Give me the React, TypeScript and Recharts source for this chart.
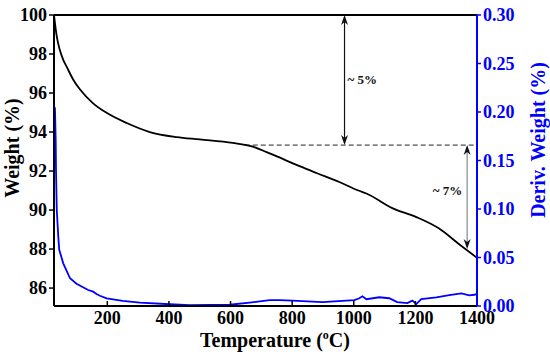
import { LineChart, Line, XAxis, YAxis, ReferenceLine } from 'recharts';

const tempTicks = [200, 400, 600, 800, 1000, 1200, 1400];
const weightTicks = [86, 88, 90, 92, 94, 96, 98, 100];
const derivTicks = [0, 0.05, 0.1, 0.15, 0.2, 0.25, 0.3];

// TGA weight curve (black, left axis)
const weightTemp = [27, 33, 36, 46, 57, 68, 90, 111, 154, 199, 263, 338, 425, 500, 607, 672, 717, 743, 824, 879, 953, 1015, 1041, 1125, 1203, 1277, 1342, 1400];
const weightPct = [100, 99.23, 98.9, 98.2, 97.7, 97.35, 96.67, 96.19, 95.47, 94.97, 94.46, 94.0, 93.74, 93.62, 93.44, 93.25, 92.97, 92.8, 92.25, 91.9, 91.44, 91.0, 90.85, 90.1, 89.64, 89.05, 88.25, 87.55];

// derivative curve (blue, right axis)
const derivTemp = [30, 32.5, 33.5, 36, 41, 44, 57, 79, 100, 138, 154, 165, 176, 198, 250, 306, 403, 467, 597, 662, 727, 759, 801, 898, 1002, 1018, 1028, 1041, 1083, 1115, 1141, 1174, 1190, 1203, 1219, 1268, 1310, 1349, 1375, 1391, 1400];
const derivPct = [0.205, 0.171, 0.14, 0.099, 0.071, 0.058, 0.044, 0.0286, 0.023, 0.0165, 0.0148, 0.0124, 0.0106, 0.0079, 0.0052, 0.0035, 0.0018, 0.001, 0.0013, 0.0035, 0.006, 0.006, 0.0055, 0.004, 0.006, 0.008, 0.01, 0.007, 0.009, 0.008, 0.004, 0.003, 0.0055, 0.002, 0.007, 0.009, 0.0113, 0.013, 0.011, 0.0116, 0.0124];

const plateau = 93.33;
const arrow1 = { t: 970, top: 100, bottom: plateau, text: '~ 5%' };
const arrow2 = { t: 1368, top: plateau, bottom: 88.0, text: '~ 7%' };

const weightData = weightTemp.map((t, i) => ({ t, w: weightPct[i] }));
const derivData = derivTemp.map((t, i) => ({ t, d: derivPct[i] }));

const FONT = '"Liberation Serif", "Times New Roman", serif';
const BLUE = '#0000ff';

const makeArrow = (lineColor: string, text: string, side: 'right' | 'left') => (props: any) => {
  const { x1, y1, x2, y2 } = props;
  const x = x1;
  const top = Math.min(y1, y2);
  const bot = Math.max(y1, y2);
  const mid = (top + bot) / 2;
  return (
    <g>
      <line x1={x} y1={top + 2} x2={x2} y2={bot - 2} stroke={lineColor} strokeWidth={1.2} />
      <path d={`M${x},${top} L${x - 3.5},${top + 10} L${x},${top + 7} L${x + 3.5},${top + 10} Z`} fill="#111" />
      <path d={`M${x},${bot} L${x - 3.5},${bot - 10} L${x},${bot - 7} L${x + 3.5},${bot - 10} Z`} fill="#111" />
      <text
        x={side === 'right' ? x + 3 : x - 5}
        y={side === 'right' ? mid + 4 : mid - 2}
        textAnchor={side === 'right' ? 'start' : 'end'}
        fontFamily={FONT}
        fontSize={13}
        fontWeight="bold"
        fill="#111"
      >
        {text}
      </text>
    </g>
  );
};

const XTitle = () => (
  <text x={275} y={347} textAnchor="middle" fontFamily={FONT} fontSize={20} fontWeight="bold" fill="#000">
    <tspan>Temperature (</tspan>
    <tspan dy={-8} fontSize={12}>o</tspan>
    <tspan dy={8}>C)</tspan>
  </text>
);

const LeftTitle = () => (
  <text transform="translate(19,148) rotate(-90)" textAnchor="middle" fontFamily={FONT} fontSize={20} fontWeight="bold" fill="#000">
    Weight (%)
  </text>
);

const RightTitle = () => (
  <text transform="translate(545,140) rotate(-90)" textAnchor="middle" fontFamily={FONT} fontSize={20} fontWeight="bold" fill={BLUE}>
    Deriv. Weight (%)
  </text>
);

export default function App() {
  return (
    <div style={{ position: 'absolute', left: 0, top: 0, width: 550, height: 354, background: '#fff' }}>
      <LineChart width={550} height={354} margin={{ top: 15, right: 0, left: 0, bottom: 0 }}>
        <XAxis
          dataKey="t"
          type="number"
          domain={[27, 1400]}
          ticks={tempTicks}
          allowDataOverflow
          interval={0}
          height={48}
          tickSize={-5}
          tickMargin={10}
          axisLine={{ stroke: '#000', strokeWidth: 2 }}
          tickLine={{ stroke: '#000', strokeWidth: 1.5 }}
          tick={{ fill: '#000', fontSize: 18, fontWeight: 'bold', fontFamily: FONT }}
          label={{ content: () => <XTitle /> }}
        />
        <YAxis
          yAxisId="w"
          orientation="left"
          width={54}
          domain={[85.08, 100]}
          ticks={weightTicks}
          allowDataOverflow
          interval={0}
          tickSize={5}
          tickMargin={2}
          axisLine={{ stroke: '#000', strokeWidth: 2 }}
          tickLine={{ stroke: '#000', strokeWidth: 1.5 }}
          tick={{ fill: '#000', fontSize: 18, fontWeight: 'bold', fontFamily: FONT }}
          label={{ content: () => <LeftTitle /> }}
        />
        <YAxis
          yAxisId="d"
          orientation="right"
          width={73}
          domain={[0, 0.3]}
          ticks={derivTicks}
          allowDataOverflow
          interval={0}
          tickSize={4}
          tickMargin={2}
          tickFormatter={(v: number) => v.toFixed(2)}
          axisLine={{ stroke: BLUE, strokeWidth: 2 }}
          tickLine={{ stroke: BLUE, strokeWidth: 1.5 }}
          tick={{ fill: BLUE, fontSize: 18, fontWeight: 'bold', fontFamily: FONT }}
          label={{ content: () => <RightTitle /> }}
        />
        <ReferenceLine yAxisId="w" y={100} stroke="#000" strokeWidth={2} ifOverflow="visible" />
        <ReferenceLine
          yAxisId="w"
          segment={[{ x: 646, y: plateau }, { x: 1400, y: plateau }]}
          stroke="#222"
          strokeWidth={1}
          strokeDasharray="5 3"
          ifOverflow="visible"
        />
        <Line
          yAxisId="d"
          data={derivData}
          dataKey="d"
          type="linear"
          stroke={BLUE}
          strokeWidth={1.8}
          dot={false}
          isAnimationActive={false}
        />
        <Line
          yAxisId="w"
          data={weightData}
          dataKey="w"
          type="monotone"
          stroke="#000"
          strokeWidth={1.8}
          dot={false}
          isAnimationActive={false}
        />
        <ReferenceLine
          yAxisId="w"
          segment={[{ x: arrow1.t, y: arrow1.top }, { x: arrow1.t, y: arrow1.bottom }]}
          ifOverflow="visible"
          shape={makeArrow('#111', arrow1.text, 'right')}
        />
        <ReferenceLine
          yAxisId="w"
          segment={[{ x: arrow2.t, y: arrow2.top }, { x: arrow2.t, y: arrow2.bottom }]}
          ifOverflow="visible"
          shape={makeArrow('#888', arrow2.text, 'left')}
        />
      </LineChart>
    </div>
  );
}
